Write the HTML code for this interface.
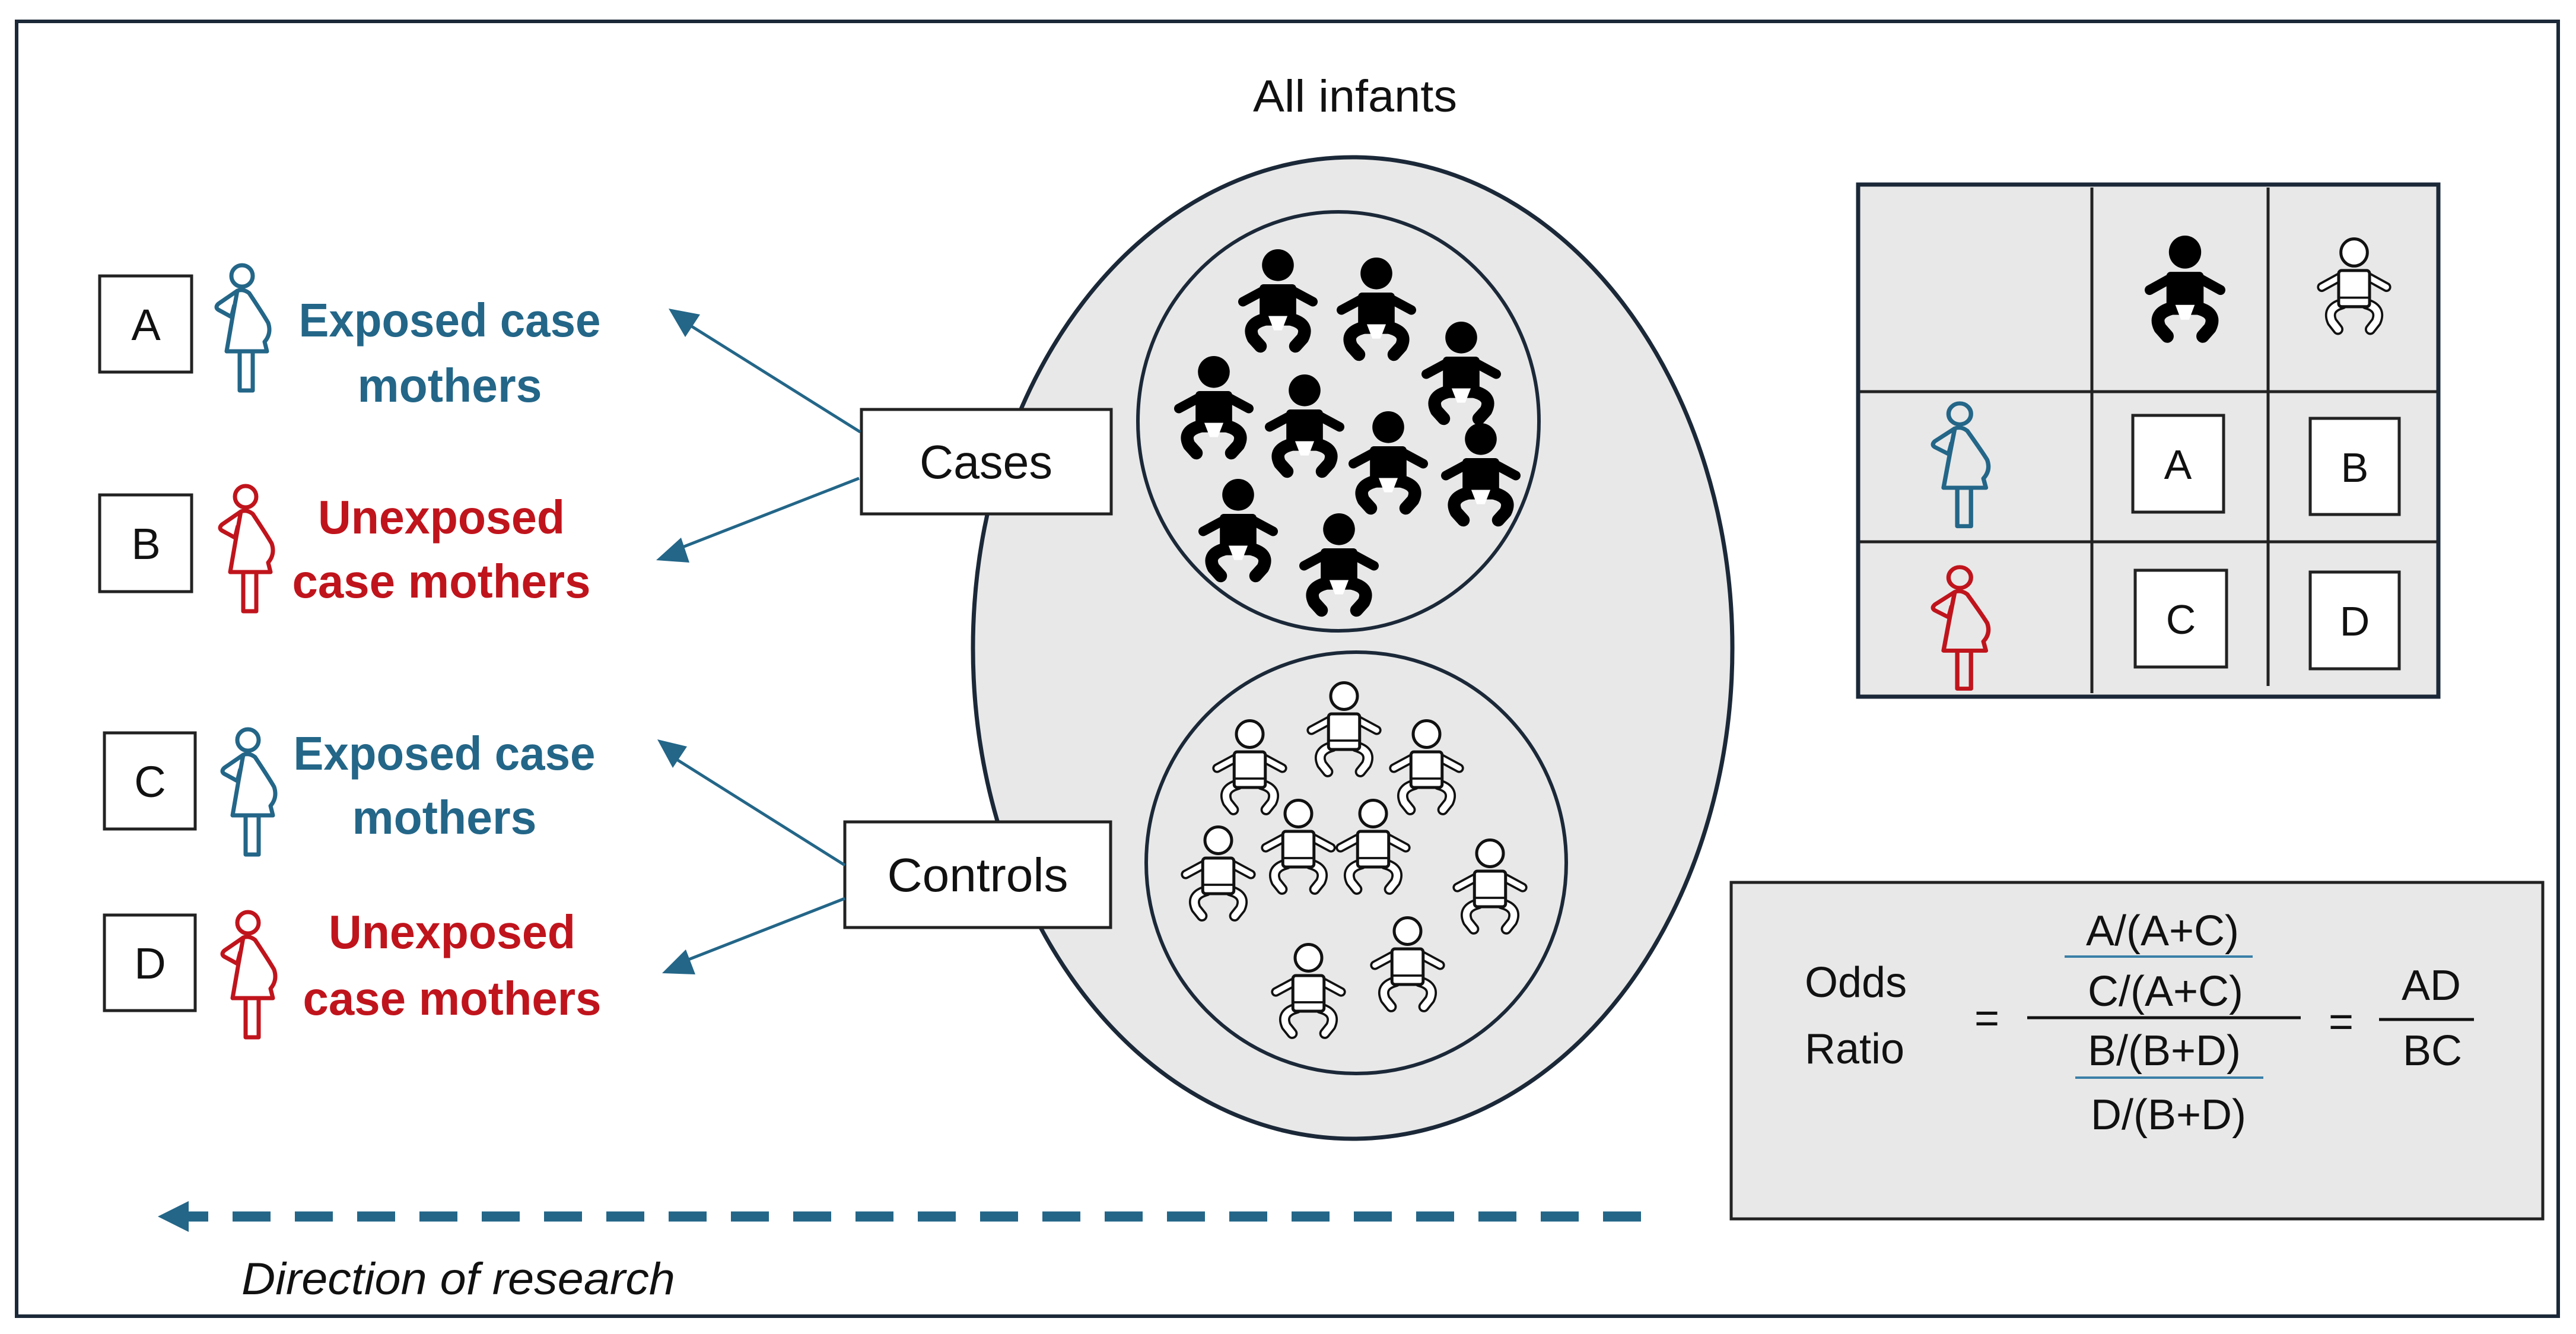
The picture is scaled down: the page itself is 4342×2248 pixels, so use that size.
<!DOCTYPE html>
<html><head><meta charset="utf-8"><style>
html,body{margin:0;padding:0;background:#fff}
svg{display:block}
text{font-family:"Liberation Sans",sans-serif}
</style></head><body>
<svg width="4342" height="2248" viewBox="0 0 4342 2248" xmlns="http://www.w3.org/2000/svg">
<defs>
<g id="bk">
 <circle cx="50" cy="20" r="20" fill="#000"/>
 <rect x="27" y="44" width="46" height="52" rx="5" fill="#000"/>
 <path d="M32 52 L6 66 M68 52 L94 66" stroke="#000" stroke-width="12" stroke-linecap="round" fill="none"/>
 <path d="M34 88 Q10 94 19 112 L28 122 M66 88 Q90 94 81 112 L72 122" stroke="#000" stroke-width="16" stroke-linecap="round" stroke-linejoin="round" fill="none"/>
 <path d="M38 84 L62 84 L55 102 L45 102 Z" fill="#fff"/>
</g>
<g id="wt">
 <path d="M32 52 L6 66 M68 52 L94 66" stroke="#111" stroke-width="13" stroke-linecap="round" fill="none"/>
 <path d="M34 88 Q12 94 20 112 L28 122 M66 88 Q88 94 80 112 L72 122" stroke="#111" stroke-width="15" stroke-linecap="round" stroke-linejoin="round" fill="none"/>
 <path d="M32 52 L6 66 M68 52 L94 66" stroke="#fff" stroke-width="7" stroke-linecap="round" fill="none"/>
 <path d="M34 88 Q12 94 20 112 L28 122 M66 88 Q88 94 80 112 L72 122" stroke="#fff" stroke-width="9" stroke-linecap="round" stroke-linejoin="round" fill="none"/>
 <circle cx="50" cy="20" r="18" fill="#fff" stroke="#111" stroke-width="4"/>
 <rect x="29" y="44" width="42" height="48" rx="4" fill="#fff" stroke="#111" stroke-width="4"/>
 <line x1="29" y1="80" x2="71" y2="80" stroke="#111" stroke-width="3"/>
</g>
<g id="mom" fill="none" stroke-width="7" stroke-linejoin="round">
 <circle cx="46" cy="25" r="18"/>
 <path d="M38 50 L6 72 Q0 78 6 82 L28 94 L33 74 M30 94 L20 152 L88 152 L84 136 Q96 122 90 104 Q82 90 58 54 Q48 46 38 50 Z"/>
 <rect x="42" y="152" width="22" height="66"/>
</g>
</defs>

<rect x="28" y="36" width="4284" height="2182" fill="#fff" stroke="#1b2838" stroke-width="6"/>

<text x="2284" y="188" font-size="76" fill="#111" text-anchor="middle" textLength="344" lengthAdjust="spacingAndGlyphs">All infants</text>

<ellipse cx="2280" cy="1092" rx="640" ry="827" fill="#e8e8e8" stroke="#1b2838" stroke-width="7"/>
<ellipse cx="2256" cy="710" rx="338" ry="353" fill="#e8e8e8" stroke="#1b2838" stroke-width="6"/>
<ellipse cx="2286" cy="1454" rx="354" ry="355" fill="#e8e8e8" stroke="#1b2838" stroke-width="6"/>

<g transform="translate(2087,420) scale(1.34)"><use href="#bk"/></g>
<g transform="translate(2253,434) scale(1.34)"><use href="#bk"/></g>
<g transform="translate(2396,542) scale(1.34)"><use href="#bk"/></g>
<g transform="translate(1979,600) scale(1.34)"><use href="#bk"/></g>
<g transform="translate(2132,631) scale(1.34)"><use href="#bk"/></g>
<g transform="translate(2273,693) scale(1.34)"><use href="#bk"/></g>
<g transform="translate(2429,713) scale(1.34)"><use href="#bk"/></g>
<g transform="translate(2020,807) scale(1.34)"><use href="#bk"/></g>
<g transform="translate(2190,865) scale(1.34)"><use href="#bk"/></g>

<g transform="translate(2203,1148) scale(1.25)"><use href="#wt"/></g>
<g transform="translate(2044,1212) scale(1.25)"><use href="#wt"/></g>
<g transform="translate(2342,1212) scale(1.25)"><use href="#wt"/></g>
<g transform="translate(2126,1346) scale(1.25)"><use href="#wt"/></g>
<g transform="translate(2252,1346) scale(1.25)"><use href="#wt"/></g>
<g transform="translate(1991,1391) scale(1.25)"><use href="#wt"/></g>
<g transform="translate(2449,1413) scale(1.25)"><use href="#wt"/></g>
<g transform="translate(2310,1544) scale(1.25)"><use href="#wt"/></g>
<g transform="translate(2143,1589) scale(1.25)"><use href="#wt"/></g>

<rect x="1452" y="690" width="421" height="176" fill="#fff" stroke="#222" stroke-width="5"/>
<text x="1662" y="806" font-size="80" fill="#111" text-anchor="middle" textLength="224" lengthAdjust="spacingAndGlyphs">Cases</text>
<rect x="1424" y="1385" width="448" height="178" fill="#fff" stroke="#222" stroke-width="5"/>
<text x="1648" y="1502" font-size="80" fill="#111" text-anchor="middle" textLength="305" lengthAdjust="spacingAndGlyphs">Controls</text>

<g stroke="#236688" stroke-width="5" fill="#236688">
 <line x1="1450" y1="728" x2="1150" y2="540"/>
 <polygon points="1127,520 1180,530 1155,568" stroke="none"/>
 <line x1="1448" y1="806" x2="1130" y2="930"/>
 <polygon points="1106,944 1148,906 1162,948" stroke="none"/>
 <line x1="1424" y1="1458" x2="1125" y2="1270"/>
 <polygon points="1108,1246 1158,1258 1134,1294" stroke="none"/>
 <line x1="1424" y1="1514" x2="1140" y2="1625"/>
 <polygon points="1116,1640 1156,1600 1172,1642" stroke="none"/>
</g>

<g fill="#fff" stroke="#222" stroke-width="5">
 <rect x="168" y="465" width="155" height="162"/>
 <rect x="168" y="834" width="155" height="163"/>
 <rect x="176" y="1235" width="153" height="162"/>
 <rect x="176" y="1542" width="153" height="161"/>
</g>
<g font-size="74" fill="#111" text-anchor="middle">
 <text x="246" y="573">A</text>
 <text x="246" y="942">B</text>
 <text x="253" y="1343">C</text>
 <text x="253" y="1649">D</text>
</g>

<g stroke="#236688" transform="translate(362,440)"><use href="#mom"/></g>
<g stroke="#c0141c" transform="translate(368,812)"><use href="#mom"/></g>
<g stroke="#236688" transform="translate(372,1222)"><use href="#mom"/></g>
<g stroke="#c0141c" transform="translate(372,1530)"><use href="#mom"/></g>

<g font-size="80" font-weight="bold" text-anchor="middle">
 <text x="758" y="567" fill="#236688" textLength="509" lengthAdjust="spacingAndGlyphs">Exposed case</text>
 <text x="758" y="677" fill="#236688" textLength="311" lengthAdjust="spacingAndGlyphs">mothers</text>
 <text x="744" y="899" fill="#c0141c" textLength="416" lengthAdjust="spacingAndGlyphs">Unexposed</text>
 <text x="744" y="1007" fill="#c0141c" textLength="503" lengthAdjust="spacingAndGlyphs">case mothers</text>
 <text x="749" y="1297" fill="#236688" textLength="509" lengthAdjust="spacingAndGlyphs">Exposed case</text>
 <text x="749" y="1405" fill="#236688" textLength="311" lengthAdjust="spacingAndGlyphs">mothers</text>
 <text x="762" y="1598" fill="#c0141c" textLength="416" lengthAdjust="spacingAndGlyphs">Unexposed</text>
 <text x="762" y="1710" fill="#c0141c" textLength="503" lengthAdjust="spacingAndGlyphs">case mothers</text>
</g>

<line x1="2766" y1="2050" x2="300" y2="2050" stroke="#236688" stroke-width="17" stroke-dasharray="64 41"/>
<polygon points="266,2050 318,2024 318,2076" fill="#236688"/>
<text x="407" y="2181" font-size="76" font-style="italic" fill="#111" textLength="731" lengthAdjust="spacingAndGlyphs">Direction of research</text>

<rect x="3132" y="311" width="978" height="863" fill="#e8e8e8" stroke="#1b2838" stroke-width="7"/>
<g stroke="#222" stroke-width="5">
 <line x1="3526" y1="316" x2="3526" y2="1168"/>
 <line x1="3823" y1="316" x2="3823" y2="1156"/>
 <line x1="3135" y1="660" x2="4107" y2="660"/>
 <line x1="3135" y1="913" x2="4107" y2="913"/>
</g>
<g transform="translate(3615,397) scale(1.36 1.39)"><use href="#bk"/></g>
<g transform="translate(3906,400) scale(1.24 1.27)"><use href="#wt"/></g>
<g stroke="#236688" transform="translate(3255,673) scale(1.05 0.98)"><use href="#mom"/></g>
<g stroke="#c0141c" transform="translate(3255,949) scale(1.05 0.97)"><use href="#mom"/></g>
<g fill="#fff" stroke="#222" stroke-width="5">
 <rect x="3595" y="700" width="153" height="163"/>
 <rect x="3894" y="705" width="150" height="162"/>
 <rect x="3599" y="961" width="154" height="163"/>
 <rect x="3894" y="964" width="150" height="163"/>
</g>
<g font-size="70" fill="#111" text-anchor="middle">
 <text x="3671" y="807">A</text>
 <text x="3969" y="812">B</text>
 <text x="3676" y="1068">C</text>
 <text x="3969" y="1071">D</text>
</g>

<rect x="2918" y="1487" width="1368" height="567" fill="#e8e8e8" stroke="#222" stroke-width="5"/>
<g font-size="72" fill="#111">
 <text x="3042" y="1680">Odds</text>
 <text x="3042" y="1792">Ratio</text>
 <text x="3349" y="1740" text-anchor="middle">=</text>
 <text x="3946" y="1746" text-anchor="middle">=</text>
 <g text-anchor="middle">
  <text x="3645" y="1593">A/(A+C)</text>
  <text x="3650" y="1695">C/(A+C)</text>
  <text x="3648" y="1795">B/(B+D)</text>
  <text x="3655" y="1903">D/(B+D)</text>
  <text x="4098" y="1685">AD</text>
  <text x="4100" y="1795">BC</text>
 </g>
</g>
<line x1="3480" y1="1612" x2="3797" y2="1612" stroke="#3a7fa8" stroke-width="4"/>
<line x1="3498" y1="1816" x2="3815" y2="1816" stroke="#3a7fa8" stroke-width="4"/>
<line x1="3417" y1="1715" x2="3878" y2="1715" stroke="#111" stroke-width="5"/>
<line x1="4010" y1="1718" x2="4170" y2="1718" stroke="#111" stroke-width="5"/>
</svg>
</body></html>
